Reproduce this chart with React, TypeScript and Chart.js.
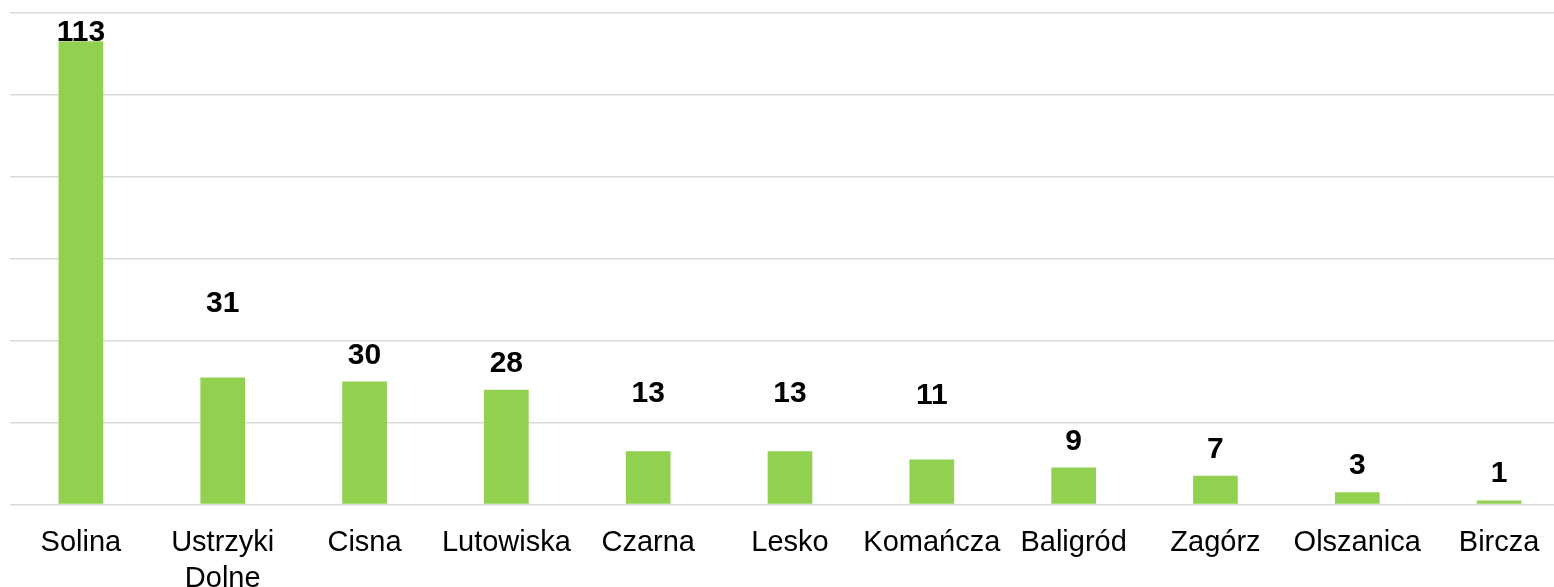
import React, { useEffect, useRef } from "react";
import { Chart, registerables } from "chart.js";

Chart.register(...registerables);

const categories: (string | string[])[] = [
  "Solina",
  ["Ustrzyki", "Dolne"],
  "Cisna",
  "Lutowiska",
  "Czarna",
  "Lesko",
  "Komańcza",
  "Baligród",
  "Zagórz",
  "Olszanica",
  "Bircza",
];
const values = [113, 31, 30, 28, 13, 13, 11, 9, 7, 3, 1];
const yMin = 0;
const yMax = 120;
const yStep = 20;

// vertical lift (px) of each value label above its bar top, as placed in the reference
const labelLift = [0, 65, 18, 18, 49, 49, 55, 18, 18, 18, 18];

const FONT = '"Liberation Sans", Arial, Helvetica, sans-serif';

const barLabels = {
  id: "barLabels",
  afterDatasetsDraw(chart: any) {
    const ctx = chart.ctx;
    const meta = chart.getDatasetMeta(0);
    ctx.save();
    ctx.font = `bold 30px ${FONT}`;
    ctx.fillStyle = "#000000";
    ctx.textAlign = "center";
    ctx.textBaseline = "alphabetic";
    meta.data.forEach((bar: any, i: number) => {
      ctx.fillText(String(values[i]), bar.x, bar.y - labelLift[i]);
    });
    ctx.restore();
  },
};

export default function App() {
  const canvasRef = useRef<HTMLCanvasElement | null>(null);

  useEffect(() => {
    if (!canvasRef.current) return;
    const chart = new Chart(canvasRef.current, {
      type: "bar",
      data: {
        labels: categories as any,
        datasets: [
          {
            data: values,
            backgroundColor: "#92D050",
            borderWidth: 0,
            barPercentage: 0.315,
            categoryPercentage: 1,
          },
        ],
      },
      options: {
        animation: false,
        responsive: true,
        maintainAspectRatio: false,
        layout: { padding: { top: 12.5, left: 10, right: 10, bottom: 0 } },
        plugins: {
          legend: { display: false },
          tooltip: { enabled: false },
        },
        scales: {
          x: {
            grid: { display: false },
            border: { display: false },
            ticks: {
              color: "#000000",
              font: { family: FONT, size: 29, lineHeight: 1.23 },
              padding: 12.5,
              maxRotation: 0,
              autoSkip: false,
            },
            afterFit(scale: any) {
              scale.height = 82.5;
            },
          },
          y: {
            min: yMin,
            max: yMax,
            ticks: { display: false, stepSize: yStep },
            grid: { color: "#D9D9D9", lineWidth: 1.5, drawTicks: false },
            border: { display: false },
            afterFit(scale: any) {
              scale.width = 0;
            },
          },
        },
      },
      plugins: [barLabels],
    });
    return () => chart.destroy();
  }, []);

  return (
    <div
      style={{
        position: "fixed",
        left: 0,
        top: 0,
        width: "100vw",
        height: "100vh",
        overflow: "hidden",
        background: "#ffffff",
      }}
    >
      <div style={{ position: "absolute", left: 0, top: 0, width: 1580, height: 587 }}>
        <canvas ref={canvasRef} />
      </div>
    </div>
  );
}
